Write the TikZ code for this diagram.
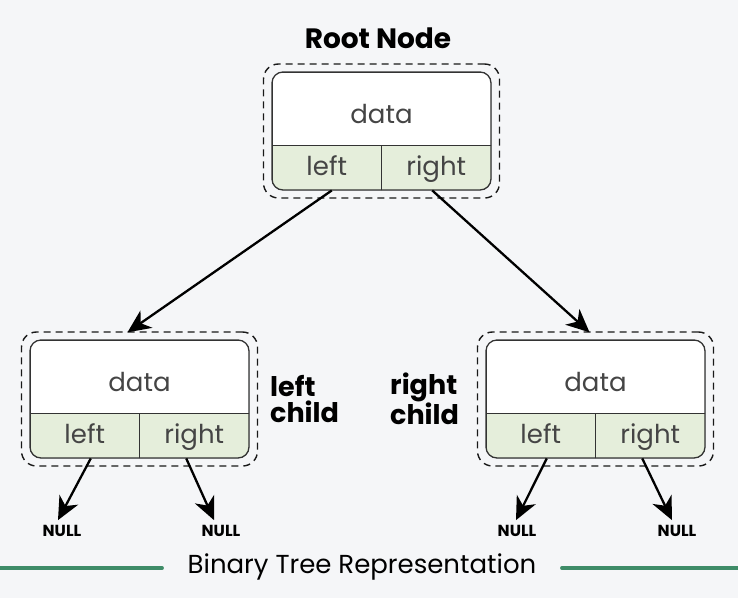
\documentclass[tikz,border=0pt]{standalone}
\usepackage{fontspec}
\setmainfont{Poppins}
\usetikzlibrary{arrows.meta,positioning}

\definecolor{bggray}{HTML}{F5F6F8}
\definecolor{cellgreen}{HTML}{E5EEDB}
\definecolor{textgray}{HTML}{454545}
\definecolor{linegreen}{HTML}{3F8C68}

\tikzset{
  cell/.style={draw=black!80,line width=0.9pt,minimum height=45pt,inner sep=0pt,
    text=textgray,font=\fontsize{26}{28}\selectfont},
  datacell/.style={cell,fill=white,minimum width=219pt,minimum height=73pt,
    text height=29pt,text depth=0pt},
  halfcell/.style={cell,fill=cellgreen,minimum width=109.5pt,
    text height=22pt,text depth=6pt},
  boxframe/.style={draw=black!80,line width=1.3pt,rounded corners=11pt,
    minimum width=219pt,minimum height=118pt,inner sep=0pt},
  dashframe/.style={draw=black!90,line width=1.4pt,dash pattern=on 7pt off 5pt,
    rounded corners=15pt,minimum width=236pt,minimum height=134pt,inner sep=0pt},
  link/.style={line width=2.3pt,-{Stealth[length=23pt,width=21pt,inset=7pt]}},
  nulltext/.style={font=\bfseries\fontsize{16}{16}\selectfont,inner sep=1pt},
  bigtext/.style={font=\bfseries\fontsize{27}{26}\selectfont,align=left,inner sep=0pt},
}

% one tree node: name, x, y of its centre
\newcommand{\bnode}[3]{%
  \node[dashframe] (#1-out) at (#2,#3) {};
  \begin{scope}
    \clip[rounded corners=11pt] (#2-109.5,#3-59) rectangle (#2+109.5,#3+59);
    \node[datacell] (#1-data) at (#2,#3-22.5) {data};
    \node[halfcell] (#1-left) at (#2-54.75,#3+36.5) {left};
    \node[halfcell] (#1-right) at (#2+54.75,#3+36.5) {right};
  \end{scope}
  \node[boxframe] (#1) at (#2,#3) {};
}

\begin{document}
\begin{tikzpicture}[x=1pt,y=-1pt]
  \fill[bggray] (0,0) rectangle (738,598);
  \useasboundingbox (0,0) rectangle (738,598);

  \node[font=\bfseries\fontsize{28}{28}\selectfont] (title) at (378,38) {Root Node};

  \bnode{root}{381.5}{131}
  \bnode{lc}{139.5}{399}
  \bnode{rc}{595.5}{399}

  \node[bigtext,anchor=west] (lclabel) at (270,399) {left\\child};
  \node[bigtext,anchor=west] (rclabel) at (390,399) {right\\child};

  \node[nulltext] (n1) at (62,531) {NULL};
  \node[nulltext] (n2) at (221,531) {NULL};
  \node[nulltext] (n3) at (517,531) {NULL};
  \node[nulltext] (n4) at (677,531) {NULL};

  % shifts are in page direction: positive yshift goes up
  \draw[link] ([xshift=5pt]root-left.south) -- ([xshift=-12pt,yshift=-1pt]lc-out.north);
  \draw[link] ([xshift=-4pt]root-right.south) -- ([xshift=-6pt,yshift=-1pt]rc-out.north);

  \draw[link] ([xshift=6pt]lc-left.south) -- ([xshift=-4pt,yshift=4pt]n1.north);
  \draw[link] ([xshift=-8pt]lc-right.south) -- ([xshift=-7pt,yshift=4pt]n2.north);
  \draw[link] ([xshift=6pt]rc-left.south) -- ([xshift=-1pt,yshift=4pt]n3.north);
  \draw[link] ([xshift=-8pt]rc-right.south) -- ([xshift=-5pt,yshift=4pt]n4.north);

  % caption with green rules
  \node[font=\fontsize{26}{26}\selectfont] (caption) at (362,567) {Binary Tree Representation};
  \draw[linegreen,line width=3.5pt,line cap=round] (0,568) -- ([xshift=-22pt]caption.west |- 0,568);
  \draw[linegreen,line width=3.5pt,line cap=round] ([xshift=22pt]caption.east |- 0,568) -- (738,568);
\end{tikzpicture}
\end{document}
